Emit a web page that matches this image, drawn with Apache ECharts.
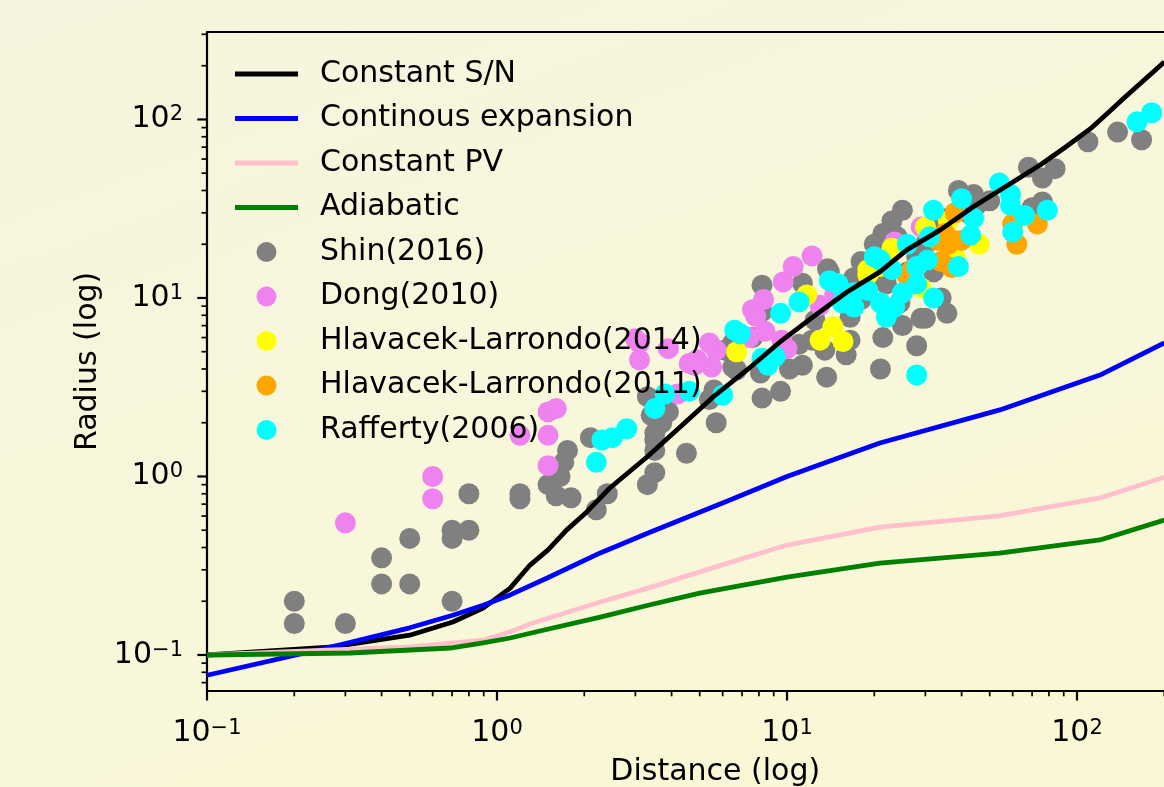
<!DOCTYPE html>
<html>
<head>
<meta charset="utf-8">
<script src="https://cdn.jsdelivr.net/npm/echarts@6.0.0/dist/echarts.min.js"></script>
<style>
html,body{margin:0;padding:0;width:1164px;height:787px;overflow:hidden;
background:linear-gradient(160deg,#f5f5df 0%,#f8f7da 55%,#faf7d4 100%);}
#c{width:1164px;height:787px;}
</style>
</head>
<body>
<div id="c"></div>
<script>
// ---- data ----
var constantSN = [[0.1,0.1],[0.272,0.111],[0.5,0.129],[0.704,0.153],[0.896,0.183],[1.11,0.237],[1.30,0.319],[1.50,0.388],[1.74,0.502],[2.04,0.633],[2.45,0.862],[3.29,1.286],[4.28,1.894],[5.56,2.79],[7.28,3.95],[9.46,5.67],[12.3,7.83],[16.1,10.8],[20.9,14.0],[25.9,18.6],[33.7,24.0],[43.8,32.3],[74.6,55.6],[90.9,69.7],[111,88.5],[130,111.6],[144,130.3],[200,210]];
var continuousExpansion = [[0.1,0.077],[0.288,0.114],[0.5,0.142],[0.704,0.167],[0.896,0.19],[1.11,0.217],[1.49,0.27],[2.27,0.373],[3.32,0.482],[6.36,0.738],[10,1.0],[20.9,1.54],[54.2,2.36],[120,3.7],[200,5.6]];
var constantPV = [[0.1,0.1],[0.5,0.111],[0.896,0.121],[1.11,0.135],[1.33,0.151],[2.27,0.198],[3.32,0.237],[5.0,0.292],[10,0.413],[20.9,0.521],[54,0.601],[120,0.758],[200,0.99]];
var adiabatic = [[0.1,0.1],[0.311,0.1026],[0.689,0.1094],[0.896,0.117],[1.11,0.1245],[1.37,0.135],[2.27,0.163],[3.32,0.19],[5.0,0.222],[10,0.273],[20.9,0.327],[54,0.372],[120,0.441],[200,0.57]];

var shin2016 = [[0.2,0.2],[0.2,0.15],[0.3,0.15],[0.4,0.35],[0.4,0.25],[0.5,0.45],[0.5,0.25],[0.7,0.5],[0.7,0.45],[0.8,0.5],[0.8,0.8],[0.7,0.2],
[1.2,0.8],[1.2,0.75],[1.5,0.9],[1.6,0.78],[1.8,0.76],[1.75,1.4],[1.7,1.2],[1.65,1.0],[2.1,1.65],[2.4,0.8],[2.2,0.65],[3.3,0.9],[3.5,1.05],[4.5,1.35],[3.5,1.75],[3.5,1.6],[3.5,1.4],[3.7,2.0],[3.3,2.8],[3.9,2.3],[3.4,2.2],
[8.2,11.8],[8.2,8.4],[6.5,5.6],[6.1,5.1],[6.7,3.95],[5.4,2.7],[5.7,2.0],[8.2,2.75],[9.5,3.0],[10.2,4.0],[11.3,4.2],[11,5.5],[12.2,5.8],[12.5,7.5],[13.7,3.6],[13.5,5.1],[16,4.8],[16.5,5.8],[18,9.8],[20,20],[18,16],[14,14],[21.4,23],[23,27],[25,31],[39,40],[44,38],[68,54],[76,47],[84,53],[76,34.5],[70,32],[109,75],[138,85],[167,77],[35.6,8.2],[30,7.7],[28,5.4],[21,4.0],[25,7],[34,10],[24.5,9.4],[16.5,7.8],[21.4,6.0],[29,7.7],[7.6,6.0],[8.1,3.8],[11.3,12.1],[13.8,14.6],[5.6,3.05],[6.5,4.1],
[30,20],[28,17],[33,25],[36,28],[42,30],[26,14],[22,12],[19,12],[17,13],[32,14],[45,33],[50,35],[24,22]];
var dong2010 = [[0.3,0.55],[0.6,1.0],[0.6,0.75],[1.2,1.7],[1.5,2.3],[1.6,2.4],[1.5,1.7],[1.5,1.15],[3.0,5.9],[3.1,5.6],[3.1,4.5],[3.9,5.2],[4.6,4.3],[4.9,4.5],[5.5,4.1],[5.7,5.1],[5.4,5.6],[4.2,2.9],[4.8,4.2],[7.6,8.6],[8.3,9.8],[7.8,7.9],[8.4,6.5],[9.6,5.8],[10,5.2],[9.7,12.3],[10.5,15],[12.2,17.2],[7.4,6.0],[13,9.1],[14.6,10.4],[23.5,20.6],[29,25]];
var hl2014 = [[6.7,5.0],[11.7,10.4],[13,5.8],[14.4,6.9],[15.6,5.7],[19,14.4],[21,15],[23,19],[29,11.4],[30,25],[36,27],[46,20],[38,17],[19,13.5]];
var hl2011 = [[38,30],[36,20],[40,21],[34,16],[37,14.8],[62,20],[73,26],[60,26],[33,21],[27,14.4],[26,13.3],[37.5,21],[35,23]];
var rafferty2006 = [[2.2,1.2],[2.3,1.6],[2.5,1.65],[2.8,1.85],[3.5,2.4],[3.8,2.9],[4.6,3.0],[6.0,2.85],[6.6,6.6],[6.9,6.3],[8.2,4.6],[8.6,4.2],[9.1,4.7],[9.5,8.2],[11,9.5],[15,12],[16,10],[17,8.9],[15.5,9.4],[19,11],[20,17],[21,16.3],[23,14.4],[26,20],[32,31],[40,36],[44,28],[43,22.5],[54,44],[59,38],[66,29],[60,23.4],[79,31],[59,33],[31,22],[30.5,16.3],[39,15],[28,12],[32,10],[22,7.8],[23.5,8.9],[17,10.7],[21,9.4],[25,10.7],[28,15],[28,3.7],[14,12.5],[161,97],[181,109]];

var xMajorTicks = [0.1,1,10,100];
var xMinorTicks = [0.2,0.3,0.4,0.5,0.6,0.7,0.8,0.9,2,3,4,5,6,7,8,9,20,30,40,50,60,70,80,90,200,300];
var yMajorTicks = [0.1,1,10,100];
var yMinorTicks = [0.07,0.08,0.09,0.2,0.3,0.4,0.5,0.6,0.7,0.8,0.9,2,3,4,5,6,7,8,9,20,30,40,50,60,70,80,90,200,300];

var X_MIN = 0.1, X_MAX = 320, Y_MIN = 0.063, Y_MAX = 309;

// ---- build ----
var FONT = 'DejaVu Sans';
function powLabel(v){
  var e = Math.log10(v), r = Math.round(e);
  if (Math.abs(e - r) > 1e-6) return '';
  return '{b|10}{s|' + (r < 0 ? '\u2212' + (-r) : r) + '}';
}
var labelRich = {
  b:{fontSize:30,fontFamily:FONT,color:'#000',lineHeight:30},
  s:{fontSize:21,fontFamily:FONT,color:'#000',lineHeight:17,verticalAlign:'top'}
};
var tickData = [];
xMajorTicks.forEach(function(v){tickData.push([v,Y_MIN,0]);});
xMinorTicks.forEach(function(v){tickData.push([v,Y_MIN,1]);});
yMajorTicks.forEach(function(v){tickData.push([X_MIN,v,2]);});
yMinorTicks.forEach(function(v){tickData.push([X_MIN,v,3]);});

function scatter(name, data, color){
  return {name:name,type:'scatter',data:data,symbolSize:21,z:2,
    itemStyle:{color:color,opacity:1},emphasis:{disabled:true},silent:true};
}
function line(name, data, color){
  return {name:name,type:'line',data:data,symbol:'none',showSymbol:false,z:3,
    smooth:false,
    lineStyle:{color:color,width:4.8,join:'round',cap:'butt'},itemStyle:{color:color},emphasis:{disabled:true},silent:true};
}
var LINE_ICON = 'path://M0,0 L63,0 L63,4.8 L0,4.8 Z';

var chart = echarts.init(document.getElementById('c'), null, {renderer:'canvas'});
chart.setOption({
  backgroundColor:'transparent',
  animation:false,
  grid:{left:207, top:32, width:1016.5, height:658.8, containLabel:false, outerBoundsMode:'none'},
  legend:{
    orient:'vertical', left:230, top:54, itemWidth:63, itemHeight:20, itemGap:14.5,
    selectedMode:false, symbolKeepAspect:true,
    textStyle:{fontSize:30,fontFamily:FONT,color:'#000',lineHeight:30,padding:[0,0,0,17]},
    data:[
      {name:'Constant S/N',icon:LINE_ICON},
      {name:'Continous expansion',icon:LINE_ICON},
      {name:'Constant PV',icon:LINE_ICON},
      {name:'Adiabatic',icon:LINE_ICON},
      {name:'Shin(2016)',icon:'circle'},
      {name:'Dong(2010)',icon:'circle'},
      {name:'Hlavacek-Larrondo(2014)',icon:'circle'},
      {name:'Hlavacek-Larrondo(2011)',icon:'circle'},
      {name:'Rafferty(2006)',icon:'circle'}
    ]
  },
  xAxis:[{
    type:'log', logBase:10, min:X_MIN, max:X_MAX, position:'bottom',
    name:'Distance (log)', nameLocation:'middle', nameGap:66,
    nameTextStyle:{fontSize:30,fontFamily:FONT,color:'#000'},
    axisLine:{show:true,onZero:false,lineStyle:{color:'#000',width:2.2}},
    axisTick:{show:false}, splitLine:{show:false}, minorTick:{show:false},
    axisLabel:{formatter:powLabel, rich:labelRich, margin:27, showMinLabel:true, showMaxLabel:false, hideOverlap:false}
  },{
    type:'log', logBase:10, min:X_MIN, max:X_MAX, position:'top',
    axisLine:{show:true,onZero:false,lineStyle:{color:'#000',width:2.2}},
    axisTick:{show:false}, splitLine:{show:false}, axisLabel:{show:false}
  }],
  yAxis:[{
    type:'log', logBase:10, min:Y_MIN, max:Y_MAX,
    name:'Radius (log)', nameLocation:'middle', nameGap:102,
    nameTextStyle:{fontSize:30,fontFamily:FONT,color:'#000'},
    axisLine:{show:true,onZero:false,lineStyle:{color:'#000',width:2.2}},
    axisTick:{show:false}, splitLine:{show:false}, minorTick:{show:false},
    axisLabel:{formatter:powLabel, rich:labelRich, margin:24, showMinLabel:false, showMaxLabel:false}
  }],
  series:[
    scatter('Shin(2016)', shin2016, '#808080'),
    scatter('Dong(2010)', dong2010, '#ee82ee'),
    scatter('Hlavacek-Larrondo(2014)', hl2014, '#ffff00'),
    scatter('Hlavacek-Larrondo(2011)', hl2011, '#ffa500'),
    scatter('Rafferty(2006)', rafferty2006, '#00ffff'),
    line('Constant S/N', constantSN, '#000000'),
    line('Continous expansion', continuousExpansion, '#0000ff'),
    line('Constant PV', constantPV, '#ffc0cb'),
    line('Adiabatic', adiabatic, '#008000'),
    {
      type:'custom', silent:true, z:5, clip:false,
      data:tickData,
      encode:{x:0,y:1},
      renderItem:function(params, api){
        var kind = api.value(2);
        var p = api.coord([api.value(0), api.value(1)]);
        var major = (kind % 2 === 0);
        var len = major ? 9.7 : 5.5;
        var lw = major ? 2.2 : 1.7;
        var shape = kind < 2 ? {x1:p[0],y1:p[1],x2:p[0],y2:p[1]+len}
                             : {x1:p[0]-len,y1:p[1],x2:p[0],y2:p[1]};
        return {type:'line', shape:shape, style:{stroke:'#000', lineWidth:lw}};
      }
    }
  ]
});
</script>
</body>
</html>
